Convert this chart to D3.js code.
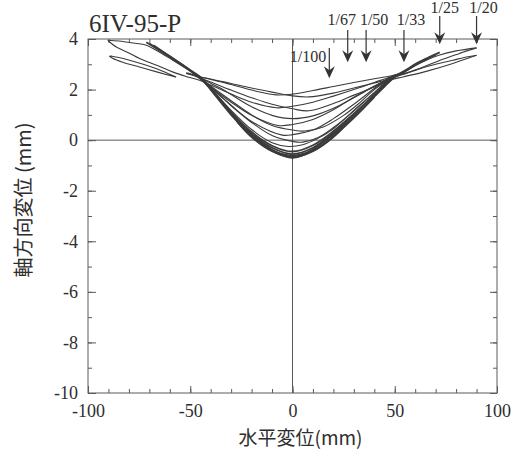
<!DOCTYPE html>
<html>
<head>
<meta charset="utf-8">
<script src="https://cdn.jsdelivr.net/npm/d3@7"></script>
<style>
  body { margin: 0; background: #fff; }
  svg text { fill: #2e2e2e; }
</style>
</head>
<body>
<svg id="chart" width="520" height="450"></svg>
<script>
// ---- labels and ticks ----
const titleText = "6IV-95-P";
const xTitle = "水平変位(mm)";
const yTitle = "軸方向変位 (mm)";
const xTickValues = [-100, -50, 0, 50, 100];
const yTickValues = [-10, -8, -6, -4, -2, 0, 2, 4];

// ---- drift-angle markers (horizontal displacement, mm) ----
const driftLabels = ["1/100", "1/67", "1/50", "1/33", "1/25", "1/20"];
const driftX = [18, 27, 36, 54.5, 72, 90];
const driftTipY = [2.45, 3.08, 3.08, 3.08, 3.79, 3.79];

// ---- measured loops: [horizontal disp, axial disp] ----
const cycle1 = [[-52,2.66],[-45,2.5],[-40,2.4],[-30,2.2],[-20,1.98],[-8,1.79],[0,1.82],[10,1.96],[20,2.12],[30,2.28],[40,2.43],[48,2.54],[53,2.63]];
const cycle2 = [[90,3.65],[86,3.55],[81.7,3.43],[73.5,3.2],[62,2.83],[54,2.6],[48,2.43],[40,2.26],[30,2.06],[20,1.86],[8,1.71],[0,1.75],[-10,1.9],[-20,2.06],[-30,2.24],[-40,2.42],[-45,2.5],[-52,2.64]];
const cycle3 = [[-90.3,3.95],[-88.5,3.82],[-86.3,3.69],[-80,3.45],[-74.8,3.23],[-66,2.95],[-58.7,2.7],[-52,2.52],[-45.5,2.37],[-40,2.18],[-30,1.82],[-20,1.5],[-8,1.28],[0,1.34],[10,1.5],[20,1.74],[30,2.0],[40,2.28],[48,2.5],[54,2.62],[60,2.76],[65.4,2.9],[72,3.04],[78.4,3.16],[84,3.27],[90,3.36]];
const cycle4 = [[90,3.36],[84,3.19],[78.4,3.03],[65.4,2.72],[54,2.5],[48,2.38],[40,2.1],[30,1.78],[20,1.45],[8,1.16],[0,1.24],[-10,1.42],[-20,1.68],[-30,1.98],[-40,2.3],[-45,2.45],[-51,2.66]];
const cycle5 = [[-90.3,3.95],[-85,3.92],[-79.7,3.86],[-75,3.81],[-71.5,3.75],[-65,3.48],[-58.5,3.16],[-52,2.83],[-45.5,2.5],[-40,2.25],[-34,2.0],[-30,1.8],[-20,1.32],[-10,0.98],[0,0.85],[10,0.96],[20,1.26],[30,1.68],[40,2.12],[48,2.45],[54,2.66],[60.5,2.97],[66,3.18],[72,3.37],[80,3.53],[90,3.65]];
const cycle6 = [[-49,2.66],[-45,2.45],[-40,2.1],[-30,1.5],[-20,0.98],[-7,0.58],[0,0.62],[10,0.82],[20,1.2],[30,1.7],[40,2.14],[48,2.48],[52,2.62]];
const cycle7 = [[-48,2.62],[-45,2.47],[-40,2.14],[-30,1.56],[-20,1.0],[-10,0.58],[0,0.4],[6,0.36],[15,0.52],[25,0.98],[32,1.42],[40,2.0],[48,2.45],[52,2.64]];
const cycle8 = [[-48,2.66],[-45,2.5],[-40,2.1],[-30,1.38],[-20,0.74],[-5,0.2],[0,0.22],[10,0.4],[20,0.85],[30,1.42],[40,2.04],[48,2.5],[51,2.6]];
const cycle9 = [[-47,2.6],[-45,2.48],[-40,2.1],[-30,1.36],[-20,0.7],[-10,0.18],[0,-0.05],[5,-0.08],[12,0.08],[20,0.5],[30,1.15],[40,1.88],[48,2.45],[51,2.58]];
const cycle10 = [[-47,2.62],[-45,2.5],[-40,2.06],[-30,1.18],[-20,0.42],[-10,-0.1],[-2,-0.25],[5,-0.18],[12,0.05],[20,0.45],[30,1.18],[40,1.88],[48,2.45],[51,2.6]];
const loopTail = [[-56.9,2.5],[-61,2.64],[-66.7,2.83],[-73,3.0],[-79.7,3.16],[-85,3.27],[-88.3,3.32],[-89.5,3.32],[-88,3.24],[-83,3.08],[-74.8,2.89],[-66,2.69],[-60,2.56],[-56.9,2.49]];

// backbone band near the origin (many overlapping small cycles)
const backbone1 = [[-71.5,3.87],[-65,3.55],[-58.5,3.24],[-52,2.88],[-45.3,2.5],[-40,2.05],[-35,1.55],[-30,1.05],[-25,0.58],[-20,0.2],[-15,-0.12],[-10,-0.38],[-5,-0.58],[0,-0.65],[5,-0.57],[10,-0.36],[15,-0.08],[20,0.22],[25,0.55],[30,0.92],[35,1.32],[40,1.72],[45,2.12],[51,2.57],[56,2.8],[60.5,3.03],[66,3.25],[72,3.47]];
const backbone2 = [[-70,3.82],[-58.5,3.2],[-45,2.45],[-40,2.0],[-30,1.05],[-20,0.25],[-10,-0.3],[0,-0.55],[10,-0.3],[20,0.28],[30,1.0],[40,1.8],[48,2.4],[55,2.72],[62,3.05],[70,3.38]];
const backbone3 = [[-68,3.75],[-58,3.2],[-48,2.62],[-40,2.05],[-30,1.12],[-20,0.32],[-10,-0.22],[0,-0.45],[10,-0.2],[20,0.35],[30,1.05],[40,1.78],[48,2.38]];
const backbone4 = [[-40,2.0],[-30,1.0],[-20,0.15],[-10,-0.42],[0,-0.7],[10,-0.42],[20,0.15],[30,0.88],[40,1.7]];
const smallCycle1 = [[-27,0.72],[-20,0.12],[-10,-0.44],[0,-0.68],[10,-0.44],[20,0.12],[27,0.7]];
const smallCycle2 = [[-18,0.02],[-10,-0.4],[0,-0.6],[10,-0.4],[18,0.0]];

const thinCurves = [cycle1, cycle2, cycle3, cycle4, cycle5, cycle6, cycle7, cycle8, cycle9, cycle10, loopTail];
const bandCurves = [backbone1, backbone2, backbone3, backbone4, smallCycle1, smallCycle2];

// ---- layout ----
const svg = d3.select("#chart");
const plotL = 88, plotR = 497, plotT = 39, plotB = 393;
const x = d3.scaleLinear().domain([-100, 100]).range([plotL, plotR]);
const y = d3.scaleLinear().domain([-10, 4]).range([plotB, plotT]);

const serif = "'Liberation Serif', 'Times New Roman', serif";
const cjk = "'Noto Sans CJK JP', 'Noto Sans CJK SC', sans-serif";
const frameColor = "#5a5a5a";
const lineColor = "#3b3b3b";

// axes: major and minor ticks on all four sides, pointing inward
function styleAxis(g) {
  g.select(".domain").remove();
  g.selectAll(".tick line").attr("stroke", frameColor).attr("stroke-width", 1);
  g.selectAll("text").attr("font-family", serif).attr("font-size", 18).attr("fill", "#2e2e2e");
}
const xMinor = d3.range(-100, 101, 10);
const yMinor = d3.range(-10, 5, 1);

svg.append("g").attr("transform", `translate(0,${plotB})`)
  .call(d3.axisBottom(x).tickValues(xMinor).tickSize(-4).tickFormat("")).call(styleAxis);
svg.append("g").attr("transform", `translate(0,${plotB})`)
  .call(d3.axisBottom(x).tickValues(xTickValues).tickSize(-7).tickPadding(11).tickFormat(d3.format("d"))).call(styleAxis);
svg.append("g").attr("transform", `translate(0,${plotT})`)
  .call(d3.axisTop(x).tickValues(xMinor).tickSize(-4).tickFormat("")).call(styleAxis);
svg.append("g").attr("transform", `translate(0,${plotT})`)
  .call(d3.axisTop(x).tickValues(xTickValues).tickSize(-7).tickFormat("")).call(styleAxis);
svg.append("g").attr("transform", `translate(${plotL},0)`)
  .call(d3.axisLeft(y).tickValues(yMinor).tickSize(-4).tickFormat("")).call(styleAxis);
svg.append("g").attr("transform", `translate(${plotL},0)`)
  .call(d3.axisLeft(y).tickValues(yTickValues).tickSize(-8).tickPadding(10).tickFormat(d3.format("d"))).call(styleAxis);
svg.append("g").attr("transform", `translate(${plotR},0)`)
  .call(d3.axisRight(y).tickValues(yMinor).tickSize(-4).tickFormat("")).call(styleAxis);
svg.append("g").attr("transform", `translate(${plotR},0)`)
  .call(d3.axisRight(y).tickValues(yTickValues).tickSize(-7).tickFormat("")).call(styleAxis);

// hyphen-minus for negative tick labels
svg.selectAll(".tick text").text(function() { return this.textContent.replace("\u2212", "-"); });

// zero reference lines
svg.append("line").attr("x1", x(0)).attr("x2", x(0)).attr("y1", plotT).attr("y2", plotB)
  .attr("stroke", frameColor).attr("stroke-width", 1);
svg.append("line").attr("x1", plotL).attr("x2", plotR).attr("y1", y(0)).attr("y2", y(0))
  .attr("stroke", frameColor).attr("stroke-width", 1);

// frame
svg.append("rect").attr("x", plotL).attr("y", plotT).attr("width", plotR - plotL).attr("height", plotB - plotT)
  .attr("fill", "none").attr("stroke", frameColor).attr("stroke-width", 1);

// loops
const line = d3.line().x(d => x(d[0])).y(d => y(d[1])).curve(d3.curveCatmullRom.alpha(0.5));
svg.append("g").selectAll("path").data(bandCurves).join("path")
  .attr("d", line).attr("fill", "none").attr("stroke", lineColor).attr("stroke-width", 1.8)
  .attr("stroke-linejoin", "round");
svg.append("g").selectAll("path").data(thinCurves).join("path")
  .attr("d", line).attr("fill", "none").attr("stroke", lineColor).attr("stroke-width", 1.1)
  .attr("stroke-linejoin", "round");

// drift markers: arrow shaft, barbed head and label
const shaftTop = [48, 30, 30, 30, 16, 16];
const labelPos = [[-3, 62, "end"], [-6, 25, "middle"], [8, 25, "middle"], [7, 25, "middle"], [5, 13, "middle"], [7, 13, "middle"]];
const markers = svg.append("g");
driftLabels.forEach((lab, i) => {
  const px = x(driftX[i]), tip = y(driftTipY[i]);
  markers.append("line").attr("x1", px).attr("x2", px).attr("y1", shaftTop[i]).attr("y2", tip - 6)
    .attr("stroke", "#333").attr("stroke-width", 1.2);
  markers.append("path")
    .attr("d", `M${px},${tip} L${px - 5.5},${tip - 12} L${px},${tip - 8} L${px + 5.5},${tip - 12} Z`)
    .attr("fill", "#333");
  markers.append("text").attr("x", px + labelPos[i][0]).attr("y", labelPos[i][1])
    .attr("text-anchor", labelPos[i][2]).attr("font-family", serif).attr("font-size", 16)
    .text(lab);
});

// titles
svg.append("text").attr("x", plotL + 1).attr("y", 32).attr("font-family", serif).attr("font-size", 25)
  .text(titleText);
svg.append("text").attr("x", (plotL + plotR) / 2 + 8).attr("y", 445).attr("text-anchor", "middle")
  .attr("font-family", cjk).attr("font-size", 19).text(xTitle);
svg.append("text").attr("transform", "translate(31,200) rotate(-90)")
  .attr("text-anchor", "middle").attr("font-family", cjk).attr("font-size", 20).text(yTitle);
</script>
</body>
</html>
